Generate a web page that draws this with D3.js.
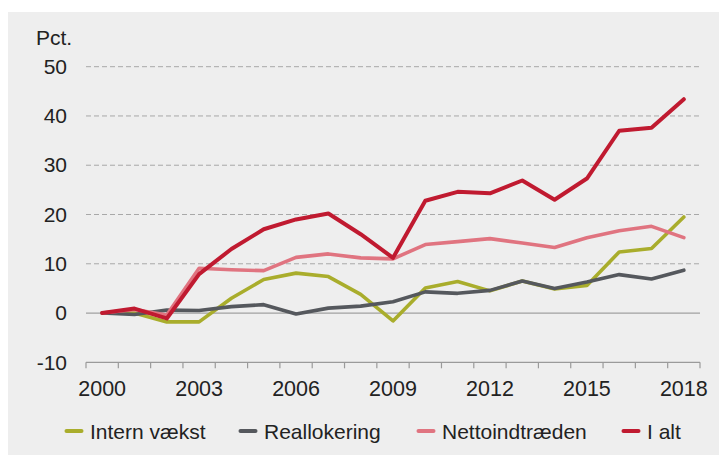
<!DOCTYPE html>
<html>
<head>
<meta charset="utf-8">
<script src="https://cdn.jsdelivr.net/npm/d3@7"></script>
<style>
  html, body { margin: 0; padding: 0; background: #ffffff; }
  svg { display: block; }
  text { font-family: "Liberation Sans", Arial, sans-serif; fill: #222222; }
</style>
</head>
<body>
<svg id="chart" width="719" height="455"></svg>
<script>
// Years on the category axis
const years = ["2000","2001","2002","2003","2004","2005","2006","2007","2008","2009",
               "2010","2011","2012","2013","2014","2015","2016","2017","2018"];
const xTickLabels = ["2000","2003","2006","2009","2012","2015","2018"];
const yTicks = [-10, 0, 10, 20, 30, 40, 50];

// Cumulative contributions, pct.
const internVaekst   = [0, 0, -1.8, -1.8, 3, 6.8, 8.1, 7.4, 3.8, -1.6, 5.1, 6.4, 4.5, 6.5, 4.9, 5.6, 12.4, 13.1, 19.5];
const reallokering   = [0, -0.3, 0.6, 0.5, 1.3, 1.7, -0.2, 1.0, 1.4, 2.3, 4.3, 4.0, 4.6, 6.5, 5.0, 6.3, 7.8, 6.9, 8.7];
const nettoindtraeden = [0, 0.7, -0.4, 9.1, 8.8, 8.6, 11.3, 12.0, 11.2, 11.0, 13.9, 14.5, 15.1, 14.2, 13.3, 15.3, 16.7, 17.6, 15.3];
const iAlt           = [0, 0.9, -1.1, 7.9, 13.0, 17.0, 19.0, 20.2, 16.0, 11.2, 22.8, 24.6, 24.3, 26.9, 23.0, 27.3, 37.0, 37.6, 43.4];

const seriesNames  = ["Intern vækst", "Reallokering", "Nettoindtræden", "I alt"];
const seriesColors = ["#a9ad2c", "#55585d", "#e07480", "#c01a30"];
const seriesValues = [internVaekst, reallokering, nettoindtraeden, iAlt];

const svg = d3.select("#chart");
const W = 719, H = 455;
const FONT = 21;

// Panel background
svg.append("rect").attr("x", 8).attr("y", 12).attr("width", W - 8).attr("height", H - 12)
  .attr("fill", "#eeeeee");

const x = d3.scaleBand().domain(years).range([86, 700]);
const y = d3.scaleLinear().domain([-10, 50]).range([362.3, 66.7]);
const cx = d => x(d) + x.bandwidth() / 2;

// Horizontal grid
const grid = svg.append("g");
yTicks.filter(v => v > 0).forEach(v => {
  grid.append("line")
    .attr("x1", 86).attr("x2", 700).attr("y1", y(v)).attr("y2", y(v))
    .attr("stroke", "#a8a8a8").attr("stroke-width", 1).attr("stroke-dasharray", "5,3");
});
grid.append("line")
  .attr("x1", 86).attr("x2", 700).attr("y1", y(0)).attr("y2", y(0))
  .attr("stroke", "#a0a0a0").attr("stroke-width", 1.2);

// Y axis labels (plain hyphen for negatives)
const yAxis = d3.axisLeft(y).tickValues(yTicks).tickSize(0).tickPadding(0).tickFormat(d => String(d));
const yg = svg.append("g").attr("transform", "translate(67,0)").call(yAxis);
yg.select(".domain").remove();
yg.selectAll("text").attr("font-size", FONT).attr("fill", "#222222")
  .attr("font-family", "'Liberation Sans', Arial, sans-serif");

svg.append("text").attr("x", 36).attr("y", 45).attr("font-size", FONT).text("Pct.");

// X axis: ticks between categories
const xg = svg.append("g").attr("transform", `translate(0,${y(-10)})`);
xg.append("line").attr("x1", 86).attr("x2", 700).attr("y1", 0).attr("y2", 0)
  .attr("stroke", "#9a9a9a").attr("stroke-width", 1.2);
const boundaries = years.map(d => x(d)).concat([x(years[years.length - 1]) + x.bandwidth()]);
boundaries.forEach(bx => {
  xg.append("line").attr("x1", bx).attr("x2", bx).attr("y1", 0).attr("y2", 6)
    .attr("stroke", "#9a9a9a").attr("stroke-width", 1.2);
});
xTickLabels.forEach(t => {
  xg.append("text").attr("x", cx(t)).attr("y", 33.5).attr("text-anchor", "middle")
    .attr("font-size", FONT + 0.5).text(t);
});

// Lines
const line = d3.line().x((d, i) => cx(years[i])).y(d => y(d));
seriesValues.forEach((vals, k) => {
  svg.append("path").datum(vals)
    .attr("d", line)
    .attr("fill", "none")
    .attr("stroke", seriesColors[k])
    .attr("stroke-width", k === 3 ? 4 : 3.6)
    .attr("stroke-linejoin", "round")
    .attr("stroke-linecap", "round");
});

// Legend
const legendX = [65, 239, 417, 622];
const legend = svg.append("g").attr("transform", "translate(0,431)");
seriesNames.forEach((name, k) => {
  legend.append("line").attr("x1", legendX[k] + 1.5).attr("x2", legendX[k] + 16.5)
    .attr("y1", 0).attr("y2", 0)
    .attr("stroke", seriesColors[k]).attr("stroke-width", 4).attr("stroke-linecap", "round");
  legend.append("text").attr("x", legendX[k] + 25).attr("y", 7.5).attr("font-size", FONT).text(name);
});
</script>
</body>
</html>
